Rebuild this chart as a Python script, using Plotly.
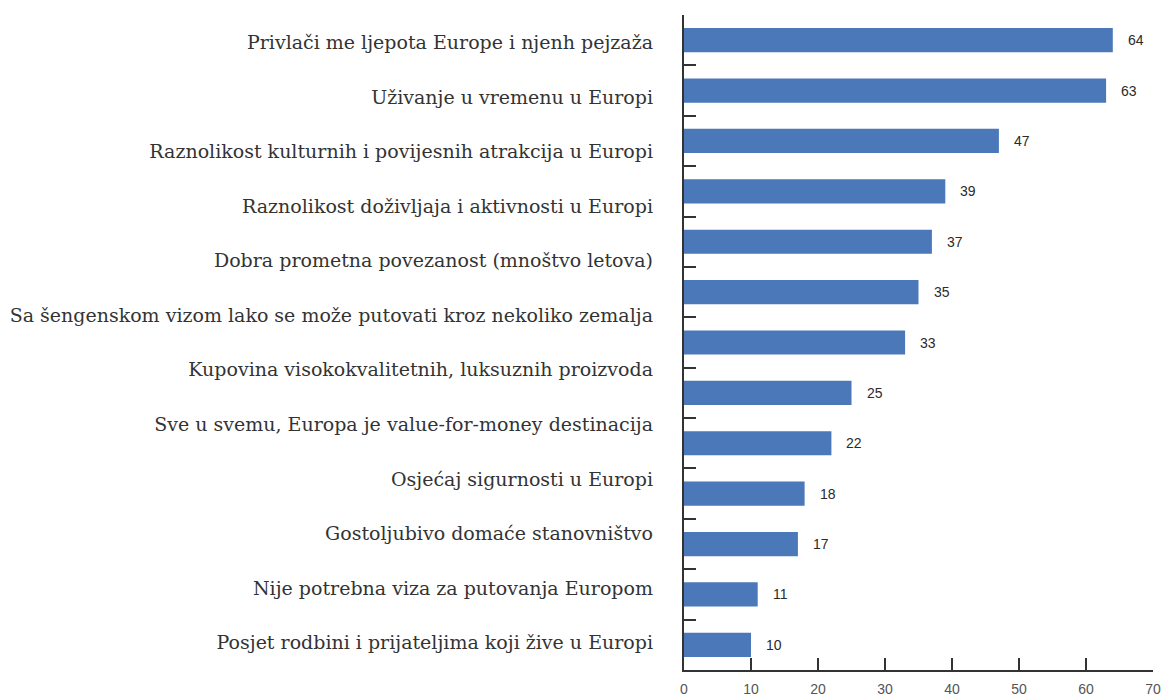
import plotly.graph_objects as go

# Text labels as printed on the left (12 labels)
labels = [
    "Privlači me ljepota Europe i njenh pejzaža",
    "Uživanje u vremenu u Europi",
    "Raznolikost kulturnih i povijesnih atrakcija u Europi",
    "Raznolikost doživljaja i aktivnosti u Europi",
    "Dobra prometna povezanost (mnoštvo letova)",
    "Sa šengenskom vizom lako se može putovati kroz nekoliko zemalja",
    "Kupovina visokokvalitetnih, luksuznih proizvoda",
    "Sve u svemu, Europa je value-for-money destinacija",
    "Osjećaj sigurnosti u Europi",
    "Gostoljubivo domaće stanovništvo",
    "Nije potrebna viza za putovanja Europom",
    "Posjet rodbini i prijateljima koji žive u Europi",
]
# Bar values as drawn (13 bars)
values = [64, 63, 47, 39, 37, 35, 33, 25, 22, 18, 17, 11, 10]
bar_pos = list(range(len(values)))
x_ticks = [0, 10, 20, 30, 40, 50, 60, 70]

fig = go.Figure()
fig.add_trace(go.Bar(
    x=values, y=bar_pos, orientation="h",
    marker=dict(color="#4a78b8", line=dict(width=0)),
    width=0.48, hoverinfo="x",
))
fig.add_trace(go.Scatter(
    x=[0] * len(labels), y=labels, yaxis="y2", mode="markers",
    marker=dict(opacity=0), hoverinfo="skip", showlegend=False,
))
for p, v in zip(bar_pos, values):
    fig.add_annotation(x=v, y=p, text=str(v), showarrow=False,
                       xanchor="left", xshift=13,
                       font=dict(family="Liberation Sans, Arial", size=14, color="#2a2a2a"))

boundaries = [i - 0.5 for i in range(len(values) + 1)]

fig.update_layout(
    width=1164, height=697,
    margin=dict(l=684, r=11, t=15, b=27),
    plot_bgcolor="white", paper_bgcolor="white",
    showlegend=False,
    xaxis=dict(
        range=[0, 70], tickvals=x_ticks, ticktext=[str(t) for t in x_ticks],
        showgrid=False, zeroline=False, automargin=False,
        showline=True, linecolor="#333", linewidth=2,
        ticks="inside", ticklen=12, tickwidth=2, tickcolor="#333",
        ticklabelstandoff=5,
        tickfont=dict(family="Liberation Sans, Arial", size=14, color="#555"),
    ),
    yaxis=dict(
        range=[len(values) - 0.5, -0.5],
        tickvals=boundaries, showticklabels=False,
        showgrid=False, zeroline=False, automargin=False,
        showline=True, linecolor="#333", linewidth=2,
        ticks="inside", ticklen=12, tickwidth=2, tickcolor="#333",
    ),
    yaxis2=dict(
        type="category", overlaying="y", side="left",
        categoryorder="array", categoryarray=labels,
        range=[len(labels) - 0.5, -0.5],
        showgrid=False, zeroline=False, showline=False,
        ticks="", ticklabelstandoff=30, automargin=False,
        tickfont=dict(family="DejaVu Serif", size=19, color="#333"),
    ),
)
fig.write_html(
    "out.html",
    config={"displayModeBar": False},
    post_script="document.body.style.margin='0';document.body.style.overflow='hidden';",
)
